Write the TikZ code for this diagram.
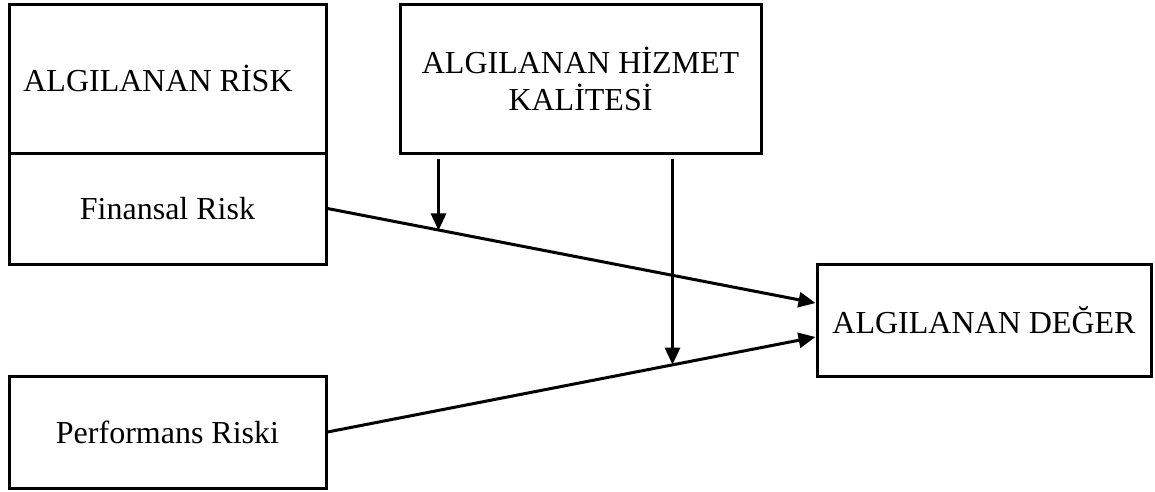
\documentclass[tikz,border=0pt]{standalone}
\usepackage{fontspec}
\setmainfont{Liberation Serif}
\usetikzlibrary{arrows.meta,calc}
\begin{document}
\begin{tikzpicture}[x=1pt,y=-1pt,
  box/.style={draw,line width=3pt,inner sep=0pt,font=\fontsize{32}{37}\selectfont,align=center},
  arr/.style={line width=3pt,-{Triangle[length=17pt,width=15pt]}}]
\useasboundingbox (0,0) rectangle (1155,491);
\node[box,minimum width=317pt,minimum height=149pt] (rh) at (167.5,78.5) {};
\node[font=\fontsize{32}{37}\selectfont] (rht) at (158,78) {ALGILANAN RİSK};
\node[box,minimum width=317pt,minimum height=111pt] (fin) at (167.5,208.5) {Finansal Risk};
\node[box,minimum width=317pt,minimum height=112pt] (perf) at (167.5,432) {Performans Riski};
\node[box,minimum width=361pt,minimum height=149pt] (hz) at (580.5,78.5) {ALGILANAN HİZMET\\KALİTESİ};
\node[box,minimum width=334pt,minimum height=112pt] (dg) at (984,320) {ALGILANAN DEĞER};
\coordinate (dg1) at ([yshift=17pt]dg.west);
\coordinate (dg2) at ([yshift=-17pt]dg.west);
\draw[arr] (fin.east) -- (dg1);
\draw[arr] (perf.east) -- (dg2);
\coordinate (h1) at ($(hz.south west)+(40,4)$);
\coordinate (h2) at ($(hz.south west)+(274,4)$);
\coordinate (t1) at ($(fin.east)!0.232!(dg1)$);
\coordinate (t2) at ($(perf.east)!0.709!(dg2)$);
\draw[arr] (h1) -- (h1 |- t1);
\draw[arr] (h2) -- (h2 |- t2);
\end{tikzpicture}
\end{document}
